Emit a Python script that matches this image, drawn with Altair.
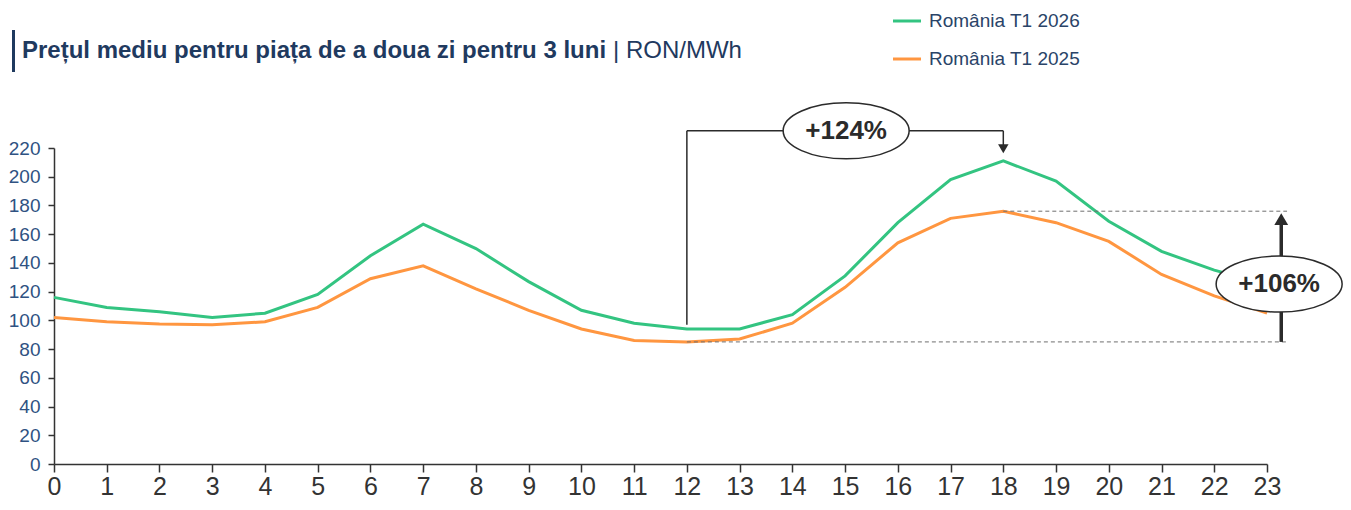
import altair as alt
import pandas as pd

# ---- data ----
hours = list(range(24))
ro_2026 = [116, 109, 106, 102, 105, 118, 145, 167, 150, 127, 107, 98,
           94, 94, 104, 131, 168, 198, 211, 197, 169, 148, 135, 125]
ro_2025 = [102, 99, 97.5, 97, 99, 109, 129, 138, 122, 107, 94, 86,
           85, 87, 98, 123, 154, 171, 176, 168, 155, 132, 117, 105]
series_names = ["România T1 2026", "România T1 2025"]
series_colors = ["#33C481", "#FF9640"]
y_ticks = list(range(0, 221, 20))
title_bold = "Prețul mediu pentru piața de a doua zi pentru 3 luni"
title_unit = "| RON/MWh"
label_peak = "+124%"
label_range = "+106%"

NAVY = "#1F3A5F"
DARK = "#2B2B2B"

df = pd.DataFrame({
    "hour": hours * 2,
    "value": ro_2026 + ro_2025,
    "series": [series_names[0]] * 24 + [series_names[1]] * 24,
})

xs = alt.Scale(domain=[0, 23], nice=False, zero=False)
ys = alt.Scale(domain=[0, 220], nice=False)
x_axis = alt.Axis(values=hours, format="d", labelFontSize=25,
                  labelColor="#333333", labelFont="Liberation Sans",
                  tickSize=8, tickColor="#333333", tickWidth=1.5,
                  domainColor="#333333", domainWidth=1.5,
                  labelPadding=2, grid=False, labelFlush=False, title=None)
y_axis = alt.Axis(values=y_ticks, labelFontSize=19,
                  labelColor="#2F5282", labelFont="Liberation Sans",
                  tickSize=6, tickColor="#333333", tickWidth=1.5,
                  domainColor="#333333", domainWidth=1.5,
                  labelPadding=8, grid=False, title=None)


def X(field):
    return alt.X(field, type="quantitative", scale=xs, axis=x_axis, title=None)


def Y(field):
    return alt.Y(field, type="quantitative", scale=ys, axis=y_axis, title=None)


lines = alt.Chart(df).mark_line(strokeWidth=3).encode(
    x=X("hour"),
    y=Y("value"),
    color=alt.Color("series:N", scale=alt.Scale(domain=series_names, range=series_colors),
                    legend=None),
    detail="series:N",
)

# ---- annotation geometry derived from data ----
lo_2025 = min(ro_2025)
hi_2025 = max(ro_2025)
h_lo = ro_2025.index(lo_2025)
h_hi = ro_2025.index(hi_2025)
h_min26 = 12
h_max26 = ro_2026.index(max(ro_2026))
bracket_y = 232
arrow_x = 23.27
dash_end = 23.38

dash_df = pd.DataFrame({"x": [h_lo, h_hi], "x2": [dash_end, dash_end],
                        "y": [lo_2025, hi_2025]})
dashes = alt.Chart(dash_df).mark_rule(color="#6E6E6E", strokeWidth=1,
                                      strokeDash=[4, 3]).encode(
    x=X("x"), x2="x2:Q", y=Y("y"))

seg_df = pd.DataFrame({
    "x": [h_min26, h_min26, h_max26, arrow_x],
    "x2": [h_min26, h_max26, h_max26, arrow_x],
    "y": [ro_2026[h_min26] + 3, bracket_y, bracket_y, lo_2025],
    "y2": [bracket_y, bracket_y, 222, 172],
    "w": [1.5, 1.5, 1.5, 3.5],
})
segs = alt.Chart(seg_df).mark_rule(color=DARK).encode(
    x=X("x"), x2="x2:Q", y=Y("y"), y2="y2:Q",
    strokeWidth=alt.StrokeWidth("w:Q", scale=None, legend=None))

head_down = alt.Chart(pd.DataFrame({"x": [h_max26], "y": [219.5]})).mark_point(
    shape="triangle-down", size=110, filled=True, color=DARK, opacity=1).encode(
    x=X("x"), y=Y("y"))
head_up = alt.Chart(pd.DataFrame({"x": [arrow_x], "y": [170.5]})).mark_point(
    shape="triangle-up", size=190, filled=True, color=DARK, opacity=1).encode(
    x=X("x"), y=Y("y"))

ell_df = pd.DataFrame({"x": [15.02, 23.23], "y": [bracket_y, 125.3],
                       "label": [label_peak, label_range]})
ellipse_path = "M-1,0A1,0.445,0,1,0,1,0A1,0.445,0,1,0,-1,0Z"
ellipses = alt.Chart(ell_df).mark_point(
    shape=ellipse_path, size=126 * 126, filled=True, fill="white", fillOpacity=1,
    stroke=DARK, strokeWidth=1.5, opacity=1).encode(
    x=X("x"), y=Y("y"))
ell_text = alt.Chart(ell_df).mark_text(
    font="Liberation Sans", fontSize=26, fontWeight="bold", color=DARK,
    baseline="middle", align="center").encode(
    x=X("x"), y=Y("y"), text="label:N")

# ---- title & legend (outside plot) ----
anchor = pd.DataFrame({"k": [0]})
title_bar = alt.Chart(anchor).mark_rule(color=NAVY, strokeWidth=3).encode(
    x=alt.value(-40.5), y=alt.value(-118), y2=alt.value(-76))
title1 = alt.Chart(anchor).mark_text(
    font="Liberation Sans", fontSize=24, fontWeight="bold", color=NAVY,
    align="left", baseline="alphabetic").encode(
    x=alt.value(-32), y=alt.value(-90), text=alt.value(title_bold))
title2 = alt.Chart(anchor).mark_text(
    font="Liberation Sans", fontSize=24, color=NAVY,
    align="left", baseline="alphabetic").encode(
    x=alt.value(559), y=alt.value(-90), text=alt.value(title_unit))

leg_df = pd.DataFrame({"series": series_names, "ly": [-127, -89]})
leg_lines = alt.Chart(leg_df).mark_rule(strokeWidth=3).encode(
    x=alt.value(839), x2=alt.value(867), y=alt.Y("ly:Q", scale=None, axis=None),
    color=alt.Color("series:N", scale=alt.Scale(domain=series_names, range=series_colors),
                    legend=None))
leg_text = alt.Chart(leg_df).mark_text(
    font="Liberation Sans", fontSize=19, color="#2A4468",
    align="left", baseline="middle").encode(
    x=alt.value(875), y=alt.Y("ly:Q", scale=None, axis=None), text="series:N")

chart = alt.layer(
    lines, dashes, segs, head_down, head_up, ellipses, ell_text,
    title_bar, title1, title2, leg_lines, leg_text
).properties(
    width=1213, height=316,
    background="white",
    autosize=alt.AutoSizeParams(type="none"),
    padding={"left": 46, "top": 140, "right": 76, "bottom": 38},
).configure_view(stroke=None)

chart.save("out.html", embed_options={"renderer": "svg", "actions": False})
